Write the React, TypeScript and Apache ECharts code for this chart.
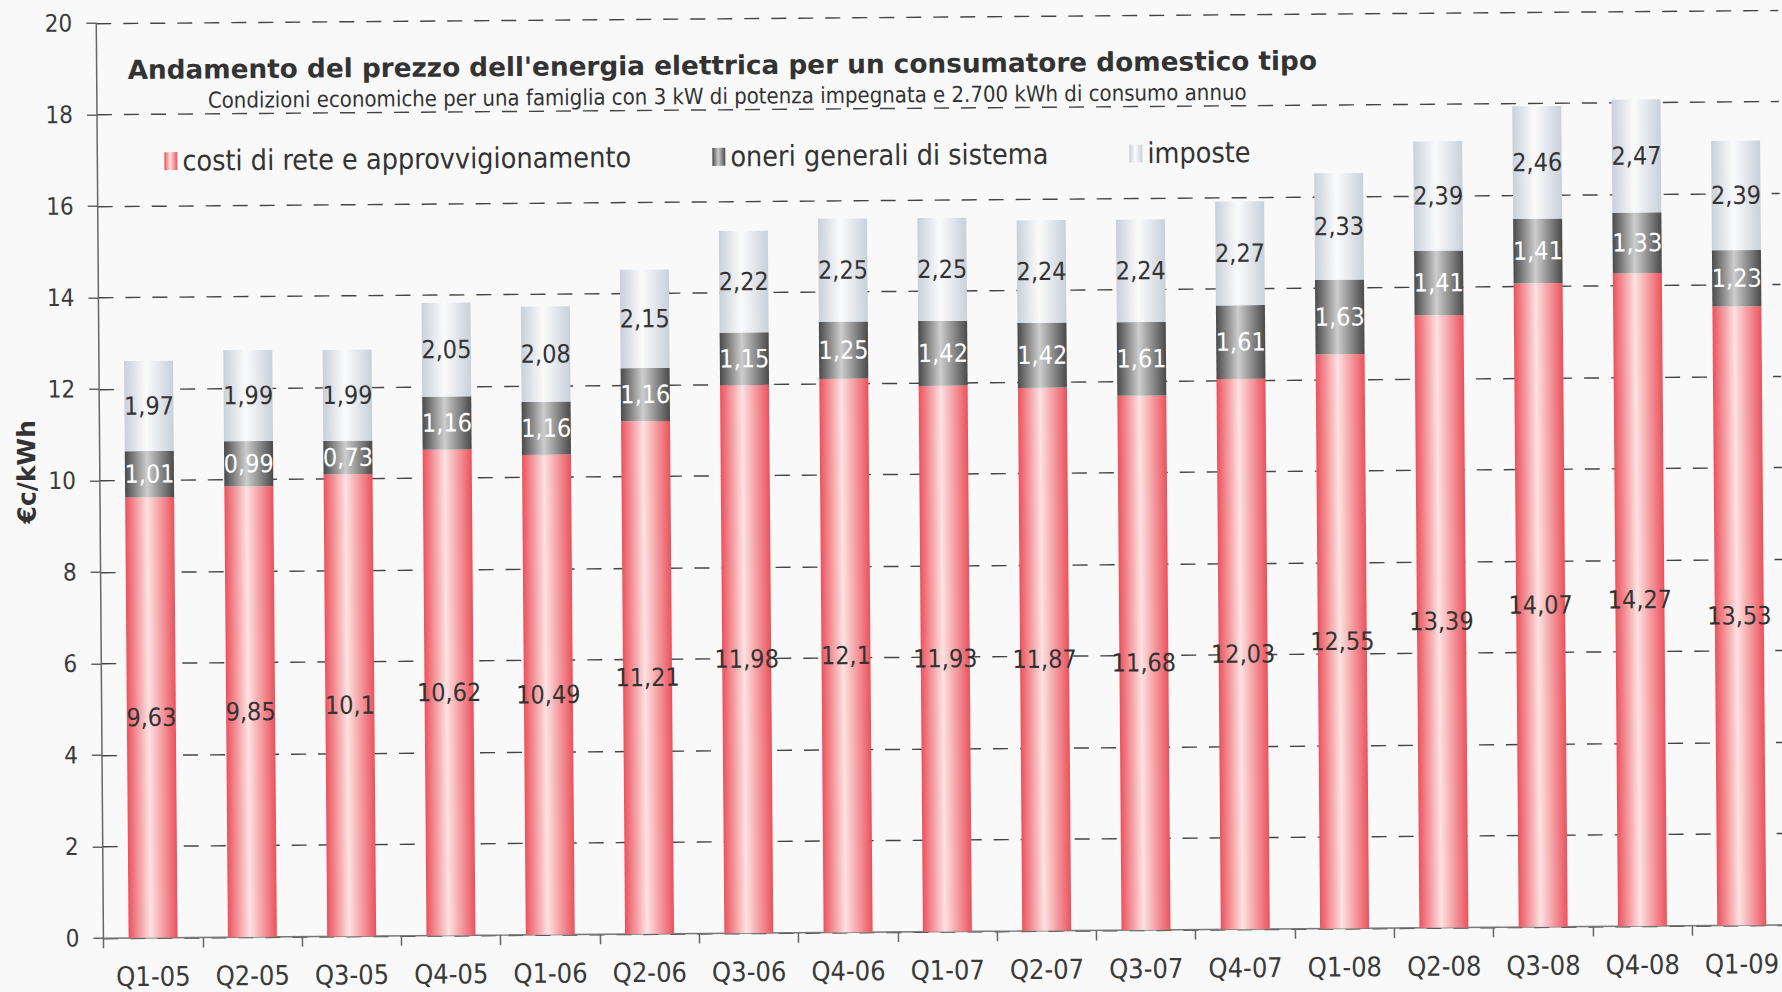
import React, { useEffect, useRef } from "react";
import * as echarts from "echarts";

const categories = [
  "Q1-05", "Q2-05", "Q3-05", "Q4-05", "Q1-06", "Q2-06", "Q3-06", "Q4-06", "Q1-07",
  "Q2-07", "Q3-07", "Q4-07", "Q1-08", "Q2-08", "Q3-08", "Q4-08", "Q1-09",
];
const costiRete = [9.63, 9.85, 10.1, 10.62, 10.49, 11.21, 11.98, 12.1, 11.93, 11.87, 11.68, 12.03, 12.55, 13.39, 14.07, 14.27, 13.53];
const oneriSistema = [1.01, 0.99, 0.73, 1.16, 1.16, 1.16, 1.15, 1.25, 1.42, 1.42, 1.61, 1.61, 1.63, 1.41, 1.41, 1.33, 1.23];
const imposte = [1.97, 1.99, 1.99, 2.05, 2.08, 2.15, 2.22, 2.25, 2.25, 2.24, 2.24, 2.27, 2.33, 2.39, 2.46, 2.47, 2.39];
const seriesNames = ["costi di rete e approvvigionamento", "oneri generali di sistema", "imposte"];
const titleText = "Andamento del prezzo dell'energia elettrica per un consumatore domestico tipo";
const subtitleText = "Condizioni economiche per una famiglia con 3 kW di potenza impegnata e 2.700 kWh di consumo annuo";
const yAxisName = "€c/kWh";

const COND = "'DejaVu Sans Condensed', 'DejaVu Sans', sans-serif";
const WIDE = "'DejaVu Sans', Verdana, sans-serif";

const grad = (edge: string, mid: string) =>
  new echarts.graphic.LinearGradient(0, 0, 1, 0, [
    { offset: 0, color: edge },
    { offset: 0.45, color: mid },
    { offset: 1, color: edge },
  ]);

const fmt = (p: any) => String(p.value).replace(".", ",");

export default function App() {
  const ref = useRef<HTMLDivElement>(null);
  useEffect(() => {
    if (!ref.current) return;
    const chart = echarts.init(ref.current, null, { renderer: "svg" });
    const labelBase = { show: true, position: "inside", fontFamily: COND, fontSize: 25, formatter: fmt };
    chart.setOption({
      animation: false,
      backgroundColor: "#f9f9f9",
      title: [
        {
          text: titleText,
          left: 131,
          top: 51,
          padding: 0,
          textStyle: { fontFamily: WIDE, fontWeight: "bold", fontSize: 26.3, color: "#333", lineHeight: 26 },
        },
        {
          text: subtitleText,
          left: 211,
          top: 84,
          padding: 0,
          textStyle: { fontFamily: COND, fontWeight: "normal", fontSize: 22, color: "#333", lineHeight: 22 },
        },
      ],
      legend: [
        { data: [seriesNames[0]], left: 167, top: 141 },
        { data: [seriesNames[1]], left: 715, top: 141 },
        { data: [seriesNames[2]], left: 1132, top: 141 },
      ].map((l) => ({
        ...l,
        padding: 0,
        icon: "rect",
        itemWidth: 13,
        itemHeight: 18,
        itemGap: 0,
        selectedMode: false,
        textStyle: { fontFamily: COND, fontSize: 28.5, color: "#333" },
      })),
      graphic: [
        {
          type: "text",
          x: 27,
          y: 465,
          rotation: Math.PI / 2,
          style: {
            text: yAxisName,
            fontFamily: WIDE,
            fontWeight: "bold",
            fontSize: 25,
            fill: "#333",
            textAlign: "center",
            textVerticalAlign: "middle",
          },
        },
      ],
      grid: { left: 100, right: -6, top: 17, bottom: 60, outerBoundsMode: "none" },
      xAxis: {
        type: "category",
        data: categories,
        axisLine: { lineStyle: { color: "#777", width: 1.5 } },
        axisTick: { show: true, length: 10, lineStyle: { color: "#666", width: 1.5 } },
        axisLabel: { fontFamily: COND, fontSize: 27, color: "#3a3a3a", margin: 25, interval: 0 },
      },
      yAxis: {
        type: "value",
        min: 0,
        max: 20,
        interval: 2,
        axisLine: { show: true, lineStyle: { color: "#666", width: 1.5 } },
        axisTick: { show: true, inside: false, length: 10, lineStyle: { color: "#666", width: 1.5 } },
        axisLabel: { fontFamily: COND, fontSize: 24, color: "#3a3a3a", margin: 24 },
        splitLine: { show: true, lineStyle: { color: "#444", width: 1.4, type: [15, 12] } },
      },
      series: [
        {
          name: seriesNames[0],
          type: "bar",
          stack: "tot",
          barWidth: 49,
          data: costiRete,
          itemStyle: { color: grad("#eb525c", "#fde2e2") },
          label: { ...labelBase, color: "#333" },
        },
        {
          name: seriesNames[1],
          type: "bar",
          stack: "tot",
          barWidth: 49,
          data: oneriSistema,
          itemStyle: { color: grad("#4a4a4a", "#cdcdcd") },
          label: { ...labelBase, color: "#ffffff" },
        },
        {
          name: seriesNames[2],
          type: "bar",
          stack: "tot",
          barWidth: 49,
          data: imposte,
          itemStyle: { color: grad("#c9d0da", "#fbfbfc") },
          label: { ...labelBase, color: "#333" },
        },
      ],
    });
    return () => chart.dispose();
  }, []);
  return (
    <div
      style={{
        position: "fixed",
        left: 0,
        top: 0,
        width: 1782,
        height: 992,
        overflow: "hidden",
        background: "#f9f9f9",
      }}
    >
      <div
        ref={ref}
        style={{ width: 1782, height: 992, transform: "rotate(-0.45deg)", transformOrigin: "50% 50%" }}
      />
    </div>
  );
}
